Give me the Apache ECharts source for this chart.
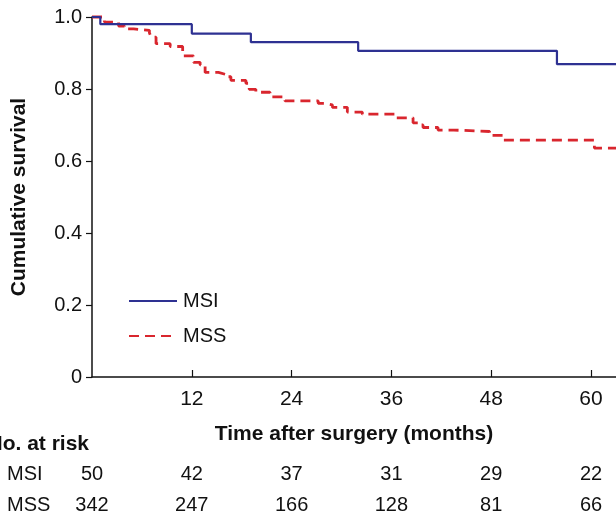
<!DOCTYPE html>
<html><head><meta charset="utf-8">
<script src="https://cdn.jsdelivr.net/npm/echarts@6/dist/echarts.min.js"></script>
<style>html,body{margin:0;padding:0;background:#fff}#c{width:616px;height:516px}</style>
</head><body><div id="c"></div>
<script>
// Kaplan-Meier step data: [months, cumulative survival]
const msiTimes = [0, 1.0, 12.0, 19.1, 32.0, 55.9, 63];
const msiSurv  = [1.0, 0.980, 0.954, 0.930, 0.906, 0.869, 0.869];
const mssTimes = [0, 1.5, 3.2, 3.9, 5.0, 6.9, 7.1, 7.7, 9.4, 10.9, 12.2, 13.0, 13.6, 15.2, 16.0, 16.7, 18.5, 18.9, 19.7, 21.4, 23.2, 27.2, 28.0, 28.9, 30.7, 32.5, 36.5, 38.6, 39.2, 39.8, 41.6, 43.5, 47.8, 49.4, 60.4, 63];
const mssSurv  = [1.0, 0.986, 0.975, 0.967, 0.963, 0.956, 0.944, 0.926, 0.918, 0.892, 0.874, 0.867, 0.846, 0.841, 0.834, 0.824, 0.816, 0.799, 0.791, 0.778, 0.767, 0.760, 0.756, 0.749, 0.736, 0.730, 0.720, 0.706, 0.700, 0.693, 0.686, 0.682, 0.671, 0.658, 0.636, 0.636];
const xTickLabels = [12, 24, 36, 48, 60];
const riskTimes = [0, 12, 24, 36, 48, 60];
const riskGroups = ['MSI', 'MSS'];
const riskMSI = [50, 42, 37, 31, 29, 22];
const riskMSS = [342, 247, 166, 128, 81, 66];

const FONT = 'Liberation Sans, Arial, Helvetica, sans-serif';
const TXT = '#111';
const BLUE = '#2e3192';
const RED = '#d9262e';
const FS = 20;
const FT = 21;

const zip = (a, b) => a.map((t, i) => [t, b[i]]);
const riskData = (arr, g) => riskTimes.map((t, i) => ({ value: [t, g, arr[i]] }));

const chart = echarts.init(document.getElementById('c'), null, { renderer: 'canvas' });
chart.setOption({
  animation: false,
  textStyle: { fontFamily: FONT, color: TXT },
  grid: [
    { left: 92, right: 0, top: 17, height: 360, containLabel: false },
    { left: 92, right: 0, top: 474, height: 31, containLabel: false }
  ],
  xAxis: [
    {
      gridIndex: 0, type: 'value', min: 0, max: 63,
      name: 'Time after surgery (months)', nameLocation: 'middle', nameGap: 47,
      nameTextStyle: { fontFamily: FONT, fontWeight: 'bold', fontSize: FT, color: TXT },
      axisLine: { lineStyle: { color: TXT, width: 1.5 } },
      axisTick: { inside: true, length: 7, lineStyle: { color: TXT, width: 1.2 }, customValues: xTickLabels },
      axisLabel: { fontFamily: FONT, fontSize: 21, color: TXT, margin: 12, customValues: xTickLabels },
      splitLine: { show: false }
    },
    {
      gridIndex: 1, type: 'value', min: 0, max: 63, show: false
    }
  ],
  yAxis: [
    {
      gridIndex: 0, type: 'value', min: 0, max: 1, interval: 0.2,
      name: 'Cumulative survival', nameLocation: 'middle', nameGap: 62, nameRotate: 90,
      nameTextStyle: { fontFamily: FONT, fontWeight: 'bold', fontSize: FT, color: TXT },
      axisLine: { show: true, lineStyle: { color: TXT, width: 1.5 } },
      axisTick: { show: true, length: 6, lineStyle: { color: TXT, width: 1.2 } },
      axisLabel: { fontFamily: FONT, fontSize: FS, color: TXT, margin: 10,
        formatter: v => (v === 0 ? '0' : v.toFixed(1)) },
      splitLine: { show: false }
    },
    {
      gridIndex: 1, type: 'category', data: riskGroups, inverse: true, boundaryGap: false,
      axisLine: { show: false }, axisTick: { show: false }, splitLine: { show: false },
      axisLabel: { fontFamily: FONT, fontSize: FS, color: TXT, align: 'left', margin: 85 }
    }
  ],
  legend: {
    orient: 'vertical', left: 123, top: 286,
    itemWidth: 48, itemHeight: 20, itemGap: 15,
    itemStyle: { opacity: 0 },
    textStyle: { fontFamily: FONT, fontSize: FS, color: TXT, padding: [0, 0, 0, 1] },
    data: ['MSI', 'MSS']
  },
  graphic: [
    { type: 'text', x: 89, y: 444, style: { text: 'No. at risk', font: 'bold ' + FT + 'px ' + FONT, fill: TXT, textAlign: 'right', textVerticalAlign: 'middle' } }
  ],
  series: [
    {
      name: 'MSS', type: 'line', step: 'end', xAxisIndex: 0, yAxisIndex: 0,
      data: zip(mssTimes, mssSurv), symbol: 'none', clip: false,
      lineStyle: { color: RED, width: 2.8, type: [10, 6] }, itemStyle: { color: RED }
    },
    {
      name: 'MSI', type: 'line', step: 'end', xAxisIndex: 0, yAxisIndex: 0,
      data: zip(msiTimes, msiSurv), symbol: 'none', clip: false,
      lineStyle: { color: BLUE, width: 2.2 }, itemStyle: { color: BLUE }
    },
    {
      name: 'riskMSI', type: 'scatter', xAxisIndex: 1, yAxisIndex: 1,
      symbolSize: 0, data: riskData(riskMSI, 'MSI'),
      label: { show: true, position: 'inside', fontFamily: FONT, fontSize: FS, color: TXT, opacity: 1, textBorderWidth: 0, formatter: p => p.value[2] }
    },
    {
      name: 'riskMSS', type: 'scatter', xAxisIndex: 1, yAxisIndex: 1,
      symbolSize: 0, data: riskData(riskMSS, 'MSS'),
      label: { show: true, position: 'inside', fontFamily: FONT, fontSize: FS, color: TXT, opacity: 1, textBorderWidth: 0, formatter: p => p.value[2] }
    }
  ]
});
</script></body></html>
